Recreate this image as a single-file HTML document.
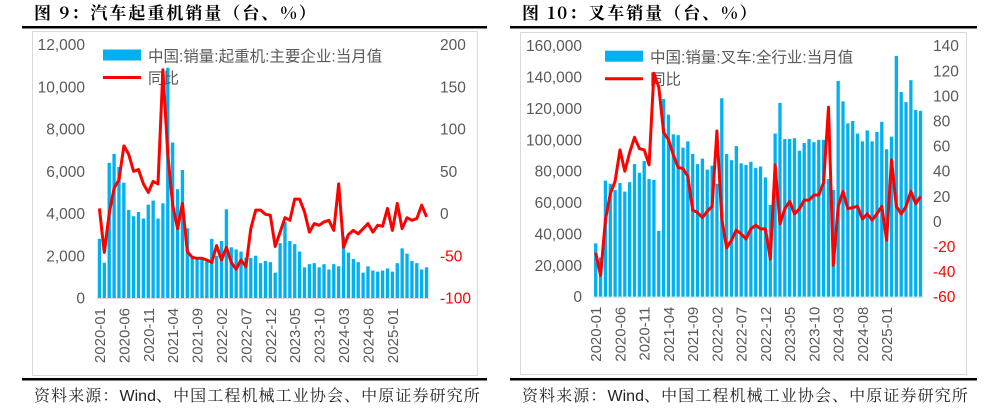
<!DOCTYPE html>
<html><head><meta charset="utf-8"><style>
body{margin:0;background:#fff;width:1004px;height:415px;overflow:hidden}
svg{display:block;font-family:"Liberation Sans","Noto Sans CJK SC",sans-serif}
</style></head><body>
<svg id="s" width="1004" height="415">
<g>
<text x="34" y="19" font-size="17" font-weight="bold" letter-spacing="2" fill="#000" font-family="'Noto Serif CJK SC','Liberation Serif',serif">图 9：汽车起重机销量（台、%）</text>
<rect x="22" y="26" width="465" height="2.5" fill="#000"/>
<rect x="32.5" y="31.5" width="445" height="344" fill="none" stroke="#d9d9d9"/>
<rect x="22" y="378" width="465" height="2.5" fill="#000"/>
<text x="34" y="401" font-size="16" letter-spacing="1.1" fill="#222" font-family="'Noto Serif CJK SC','Liberation Serif',serif">资料来源：<tspan font-family="'Liberation Sans',sans-serif" letter-spacing="0">Wind</tspan>、中国工程机械工业协会、中原证券研究所</text>
</g>
<g>
<text x="522" y="19" font-size="17" font-weight="bold" letter-spacing="2" fill="#000" font-family="'Noto Serif CJK SC','Liberation Serif',serif">图 10：叉车销量（台、%）</text>
<rect x="510" y="26" width="467" height="2.5" fill="#000"/>
<rect x="520.5" y="32.5" width="446" height="342" fill="none" stroke="#d9d9d9"/>
<rect x="510" y="378" width="467" height="2.5" fill="#000"/>
<text x="522" y="401" font-size="16" letter-spacing="1.1" fill="#222" font-family="'Noto Serif CJK SC','Liberation Serif',serif">资料来源：<tspan font-family="'Liberation Sans',sans-serif" letter-spacing="0">Wind</tspan>、中国工程机械工业协会、中原证券研究所</text>
</g>
</svg>
<script>
const xTickLabels=["2020-01","2020-06","2020-11","2021-04","2021-09","2022-02","2022-07","2022-12","2023-05","2023-10","2024-03","2024-08","2025-01"];
const craneSales=[2800,1670,6400,6820,6200,5460,4170,3870,4070,3760,4420,4610,3760,4480,10900,7360,5150,6060,3300,2000,1900,1850,1750,2800,2000,2700,4200,2400,2300,2200,1900,1900,2000,1650,1750,1700,1200,2600,3600,2700,2550,2200,1450,1600,1650,1450,1600,1350,1600,1500,2900,2150,1850,1700,1200,1500,1300,1250,1300,1400,1250,1650,2350,2100,1750,1650,1350,1450];
const craneYoy=[6,-46,0,30,40,80,70,50,52,35,25,38,35,170,70,10,-18,12,-45,-52,-53,-53,-55,-58,-38,-55,-40,-58,-66,-55,-63,-18,4,4,-1,-2,-39,-22,-5,-8,17,17,2,-22,-12,-14,-10,-8,-20,35,-40,-25,-20,-24,-18,-12,-22,-14,-15,6,-20,12,-18,-5,-8,-6,10,-4];
const craneLeftTicks=[0,2000,4000,6000,8000,10000,12000];
const craneRightTicks=[-100,-50,0,50,100,150,200];
const forkSales=[34000,25000,74000,72000,68000,72500,67000,73000,84500,79000,86500,75000,74500,42000,126000,116000,103500,103000,95000,99000,91000,84500,88000,81000,83500,72000,126500,91000,87000,96000,85000,84000,86000,82000,83000,76000,58500,104000,123500,100500,100500,101000,93000,98000,100500,98500,100000,100000,75000,68000,137500,124500,110500,112000,104000,99000,106000,99000,105000,111500,94000,102000,153500,130500,124000,138000,119000,118500];
const forkYoy=[-25,-43,1,22,32,57,40,55,67,58,57,45,118,107,71,65,53,43,42,36,9,7,3,8,12,72,2,-21,-15,-7,-10,-14,-6,-3,-6,-6,-30,45,-2,10,16,6,10,17,17,21,21,31,91,-35,12,24,10,11,12,2,6,1,6,12,-15,49,12,6,12,24,14,20];
const forkLeftTicks=[0,20000,40000,60000,80000,100000,120000,140000,160000];
const forkRightTicks=[-60,-40,-20,0,20,40,60,80,100,120,140];

const NS="http://www.w3.org/2000/svg";
const svg=document.getElementById('s');
function mk(t,a,p){const e=document.createElementNS(NS,t);for(const k in a)e.setAttribute(k,a[k]);(p||svg).appendChild(e);return e;}
function fmt(v){return v.toLocaleString('en-US');}

function drawChart(cfg){
  const g=mk('g',{});
  
  
  const n=cfg.bars.length;
  const step=(cfg.x1-cfg.x0)/n;
  const xC=i=>cfg.x0+step*(i+0.5);
  const yL=v=>cfg.yb-(v-cfg.lmin)/(cfg.lmax-cfg.lmin)*(cfg.yb-cfg.yt);
  const yR=v=>cfg.yb-(v-cfg.rmin)/(cfg.rmax-cfg.rmin)*(cfg.yb-cfg.yt);
  cfg.bars.forEach((v,i)=>{
    const r=mk('rect',{x:xC(i)-step*0.34,y:yL(v),width:step*0.68,height:cfg.yb-yL(v),fill:'#00b0f0'},g);
    
    
  });
  const ax=mk('line',{x1:cfg.x0,x2:cfg.x1,y1:cfg.yb+0.5,y2:cfg.yb+0.5,stroke:'#d9d9d9'},g);
  
  
  const pts=cfg.line.map((v,i)=>xC(i).toFixed(1)+','+yR(v).toFixed(1)).join(' ');
  const pl=mk('polyline',{points:pts,fill:'none',stroke:'#ff0000','stroke-width':3,'stroke-linejoin':'round'},g);
  
  
  cfg.lt.forEach(v=>{
    const t=mk('text',{x:cfg.lx,y:yL(v)+5.5,'text-anchor':'end','font-size':15.5,fill:'#595959'},g);
    t.textContent=fmt(v);
    
    
  });
  cfg.rt.forEach(v=>{
    const t=mk('text',{x:cfg.rx,y:yR(v)+5.5,'text-anchor':'start','font-size':15.5,fill:v<0?'#ff0000':'#595959'},g);
    t.textContent=fmt(v);
    
    
  });
  xTickLabels.forEach((s,k)=>{
    const x=xC(k*5)+5.5, y=cfg.yb+10;
    const t=mk('text',{x:x,y:y,transform:`rotate(-90 ${x} ${y})`,'text-anchor':'end','font-size':15,fill:'#595959'},g);
    t.textContent=s;
    
    
  });
  const lr=mk('rect',{x:cfg.legx,y:cfg.yt+5,width:38,height:11,fill:'#00b0f0'},g);
  
  
  const lt=mk('text',{x:cfg.legx+45,y:cfg.yt+17,'font-size':15.5,fill:'#595959'},g);
  lt.textContent=cfg.legend;
  
  
  const ll=mk('line',{x1:cfg.legx,x2:cfg.legx+38,y1:cfg.yt+33,y2:cfg.yt+33,stroke:'#ff0000','stroke-width':3},g);
  
  
  const l2=mk('text',{x:cfg.legx+45,y:cfg.yt+39,'font-size':15.5,fill:'#595959'},g);
  l2.textContent='同比';
  
  
  g.appendChild(pl);
}
drawChart({name:'crane-chart',bars:craneSales,line:craneYoy,lt:craneLeftTicks,rt:craneRightTicks,
  x0:97,x1:429,yt:44.5,yb:298,lmin:0,lmax:12000,rmin:-100,rmax:200,lx:85,rx:440,legx:103,
  legend:'中国:销量:起重机:主要企业:当月值'});
drawChart({name:'forklift-chart',bars:forkSales,line:forkYoy,lt:forkLeftTicks,rt:forkRightTicks,
  x0:593.3,x1:923,yt:45.7,yb:296.7,lmin:0,lmax:160000,rmin:-60,rmax:140,lx:582,rx:933,legx:605,
  legend:'中国:销量:叉车:全行业:当月值'});
</script>
</body></html>
